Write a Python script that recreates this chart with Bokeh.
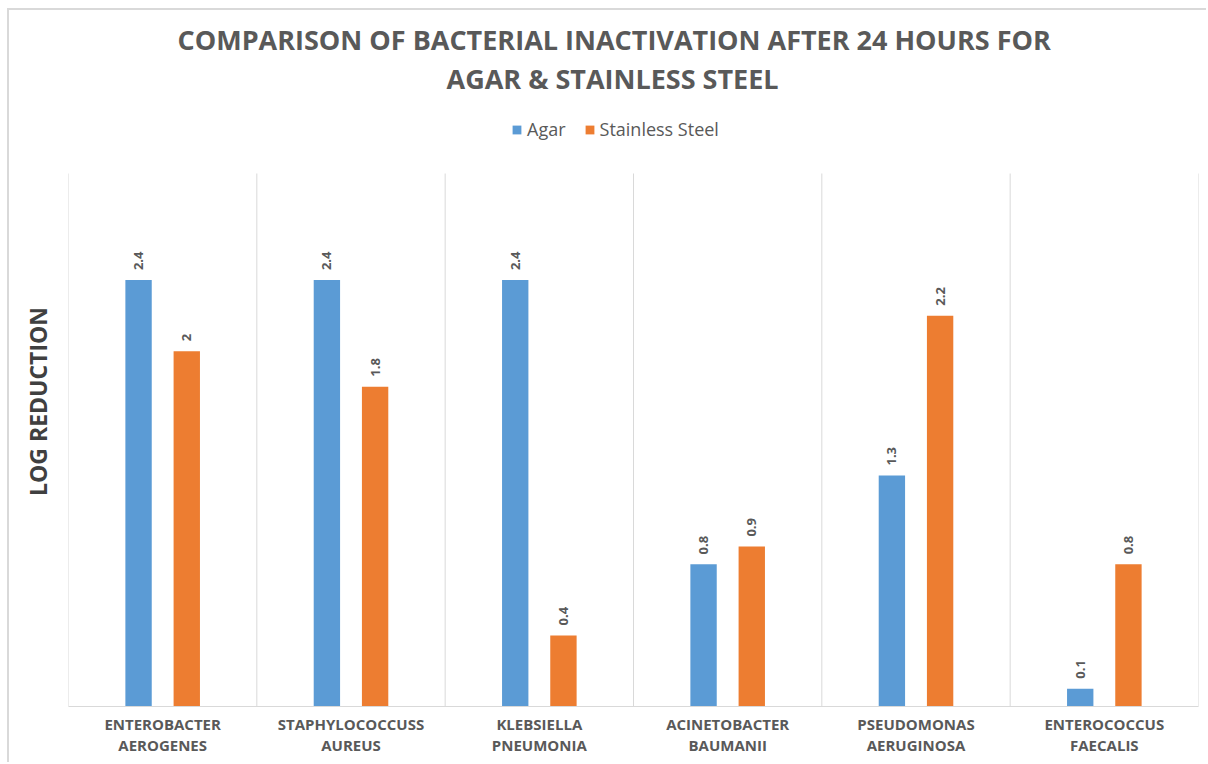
import numpy as np
from bokeh.plotting import figure
from bokeh.models import (ColumnDataSource, Range1d, FixedTicker, LabelSet,
                          Legend, LegendItem, Title)
from bokeh.core.properties import value
from bokeh.embed import file_html
from bokeh.resources import INLINE

categories = ["ENTEROBACTER\nAEROGENES", "STAPHYLOCOCCUSS\nAUREUS", "KLEBSIELLA\nPNEUMONIA",
              "ACINETOBACTER\nBAUMANII", "PSEUDOMONAS\nAERUGINOSA", "ENTEROCOCCUS\nFAECALIS"]
agar = [2.4, 2.4, 2.4, 0.8, 1.3, 0.1]
steel = [2.0, 1.8, 0.4, 0.9, 2.2, 0.8]
series_names = ["Agar", "Stainless Steel"]
title_lines = ["COMPARISON OF BACTERIAL INACTIVATION AFTER 24 HOURS FOR",
               "AGAR & STAINLESS STEEL"]
y_title = "LOG REDUCTION"
y_max = 3.0  # top of the value scale (grid height)

BLUE = "#5B9BD5"
ORANGE = "#ED7D31"
GRID = "#D9D9D9"
TEXT = "#595959"
FONT = "Open Sans"

n = len(categories)
centers = np.arange(n) + 0.5
off = 0.128
bw = 0.14

# frame: top at 96px, value y_max must sit at 173px, baseline at 706px
px_per_unit = (706 - 173) / y_max
y_end = y_max + (173 - 96) / px_per_unit

src = ColumnDataSource(dict(
    xa=centers - off, xs=centers + off, agar=agar, steel=steel,
    la=[f"{v:g}" for v in agar], ls=[f"{v:g}" for v in steel]))

p = figure(width=1199, height=754, output_backend="svg", toolbar_location=None, title=None,
           x_range=Range1d(0, n), y_range=Range1d(0, y_end),
           min_border_left=59, min_border_right=10, min_border_top=86, min_border_bottom=58)
p.styles = {"margin-left": "7px", "margin-top": "8px",
            "border-left": "2px solid #D9D9D9", "border-top": "2px solid #D9D9D9"}
p.outline_line_color = None
p.background_fill_color = "white"
p.border_fill_color = "white"

# vertical category separators (grid) spanning the value scale only
bounds = list(range(n + 1))
p.segment(x0=bounds, y0=[0] * len(bounds), x1=bounds, y1=[y_max] * len(bounds),
          line_color=GRID, line_width=1)

rb = p.vbar(x="xa", top="agar", width=bw, source=src, color=BLUE, line_color=None)
ro = p.vbar(x="xs", top="steel", width=bw, source=src, color=ORANGE, line_color=None)

for col_x, col_y, col_t in (("xa", "agar", "la"), ("xs", "steel", "ls")):
    p.add_layout(LabelSet(x=col_x, y=col_y, text=col_t, source=src, angle=np.pi / 2,
                          text_align="left", text_baseline="middle", y_offset=10,
                          text_font=value(FONT), text_font_style="bold",
                          text_font_size="13px", text_color=TEXT))

# y axis: only its title
p.yaxis.ticker = FixedTicker(ticks=[])
p.yaxis.major_tick_line_color = None
p.yaxis.minor_tick_line_color = None
p.yaxis.axis_line_color = None
p.yaxis.major_label_text_font_size = "0px"
p.yaxis.major_label_standoff = 0
p.yaxis.axis_label = y_title
p.yaxis.axis_label_standoff = 15
p.yaxis.axis_label_text_font = FONT
p.yaxis.axis_label_text_font_style = "bold"
p.yaxis.axis_label_text_font_size = "23px"
p.yaxis.axis_label_text_color = "#404040"
p.ygrid.visible = False
p.xgrid.visible = False

# x axis
p.xaxis.ticker = FixedTicker(ticks=list(centers))
p.xaxis.major_label_overrides = {float(c): lab for c, lab in zip(centers, categories)}
p.xaxis.major_tick_line_color = None
p.xaxis.minor_tick_line_color = None
p.xaxis.major_tick_out = 0
p.xaxis.major_tick_in = 0
p.xaxis.axis_line_color = GRID
p.xaxis.axis_line_width = 1
p.xaxis.major_label_standoff = 7
p.xaxis.major_label_text_font = FONT
p.xaxis.major_label_text_font_style = "bold"
p.xaxis.major_label_text_font_size = "15px"
p.xaxis.major_label_text_color = TEXT
p.xaxis.major_label_text_line_height = 1.08

legend = Legend(items=[LegendItem(label=series_names[0], renderers=[rb]),
                       LegendItem(label=series_names[1], renderers=[ro])],
                orientation="horizontal", location=(443, 565),
                padding=0, margin=0, spacing=18, label_standoff=5,
                glyph_width=11, glyph_height=11, label_height=22,
                label_text_font=FONT, label_text_font_size="18px", label_text_color=TEXT,
                border_line_color=None, background_fill_alpha=0)
p.add_layout(legend, "center")

for line, xoff in reversed(list(zip(title_lines, (109, 378)))):
    p.add_layout(Title(text=line, align="left", offset=xoff, standoff=0,
                       text_font=FONT, text_font_style="bold", text_font_size="27px",
                       text_color=TEXT), "above")

open("out.html", "w").write(file_html(p, INLINE))
